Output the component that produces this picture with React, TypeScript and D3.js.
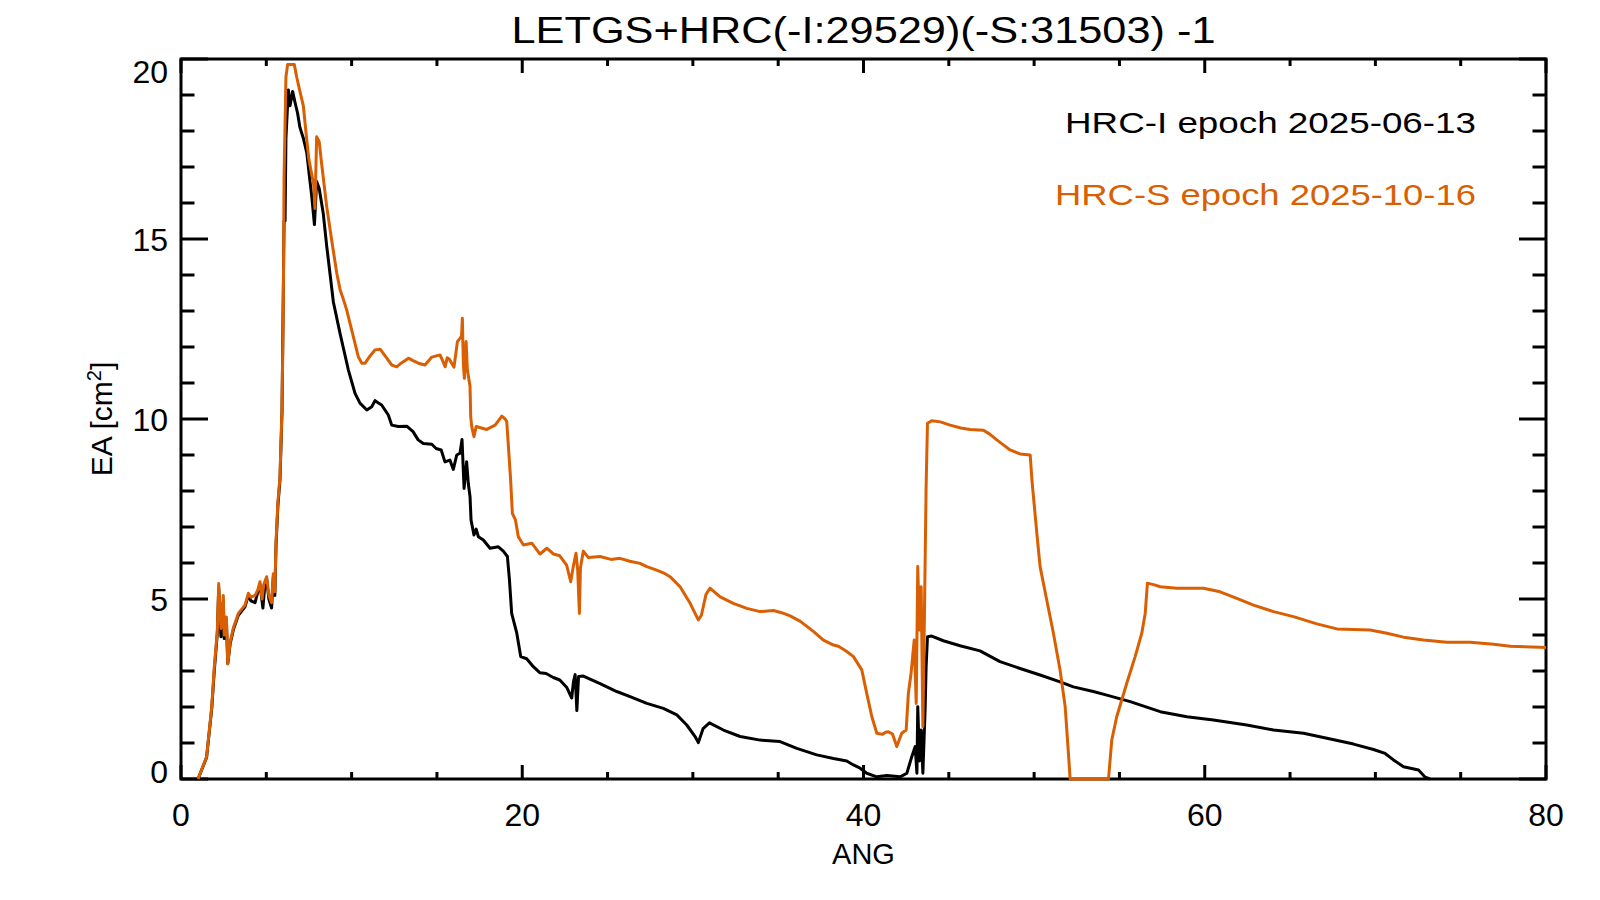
import React from "react";
import * as d3 from "d3";

// HRC-I (black) effective area
const hrcIAng = [1.0, 1.5, 1.8, 1.95, 2.13, 2.21, 2.34, 2.48, 2.53, 2.66, 2.74, 2.88, 3.07, 3.36, 3.75, 3.95, 4.1, 4.34, 4.5, 4.63, 4.8, 4.9, 5.02, 5.15, 5.31, 5.41, 5.5, 5.57, 5.68, 5.8, 5.92, 6.04, 6.1, 6.15, 6.29, 6.39, 6.54, 6.68, 6.83, 6.97, 7.17, 7.37, 7.56, 7.66, 7.82, 7.95, 8.1, 8.34, 8.54, 8.73, 8.93, 9.32, 9.81, 10.2, 10.49, 10.89, 11.18, 11.37, 11.55, 11.76, 12.15, 12.35, 12.74, 13.23, 13.6, 13.9, 14.2, 14.7, 14.95, 15.25, 15.47, 15.76, 15.96, 16.16, 16.35, 16.47, 16.59, 16.74, 16.84, 16.94, 17.0, 17.17, 17.3, 17.43, 17.72, 18.11, 18.6, 18.89, 19.13, 19.25, 19.38, 19.68, 19.91, 20.26, 20.65, 21.04, 21.4, 21.82, 22.2, 22.6, 22.9, 23.0, 23.1, 23.2, 23.3, 23.58, 24.56, 25.54, 26.32, 27.3, 28.27, 29.06, 29.64, 30.13, 30.32, 30.6, 30.97, 31.79, 32.77, 33.94, 35.11, 36.09, 37.26, 38.24, 39.02, 39.41, 39.8, 40.19, 40.78, 41.37, 42.15, 42.54, 42.83, 43.03, 43.13, 43.18, 43.28, 43.38, 43.48, 43.61, 43.67, 43.75, 44.0, 44.68, 45.66, 46.83, 48.0, 49.18, 50.35, 51.52, 52.3, 53.47, 54.26, 55.63, 57.39, 58.95, 60.51, 62.46, 64.03, 65.79, 67.16, 68.72, 69.89, 70.57, 71.06, 71.65, 72.53, 72.92, 73.2];
const hrcIEa = [0, 0.6, 1.95, 3.0, 4.05, 5.3, 3.95, 4.9, 3.9, 4.4, 3.2, 3.75, 4.15, 4.55, 4.78, 5.1, 4.95, 4.9, 5.2, 5.4, 4.75, 5.3, 5.55, 5.0, 4.75, 5.6, 5.1, 6.5, 7.6, 8.3, 10.2, 15.5, 15.5, 17.8, 19.14, 18.7, 19.1, 18.8, 18.5, 18.1, 17.8, 17.4, 16.6, 16.2, 15.4, 16.6, 16.4, 15.7, 14.8, 14.05, 13.25, 12.38, 11.36, 10.71, 10.44, 10.25, 10.34, 10.51, 10.45, 10.39, 10.11, 9.83, 9.79, 9.8, 9.65, 9.42, 9.32, 9.3, 9.18, 9.14, 8.81, 8.86, 8.6, 9.0, 9.05, 9.43, 8.07, 8.81, 8.2, 7.84, 7.19, 6.78, 6.94, 6.73, 6.64, 6.41, 6.45, 6.33, 6.18, 5.53, 4.6, 4.05, 3.4, 3.34, 3.12, 2.95, 2.93, 2.82, 2.75, 2.55, 2.25, 2.7, 2.9, 1.9, 2.85, 2.86, 2.65, 2.43, 2.29, 2.1, 1.96, 1.78, 1.5, 1.18, 1.01, 1.4, 1.56, 1.36, 1.18, 1.08, 1.04, 0.85, 0.67, 0.57, 0.5, 0.39, 0.3, 0.16, 0.06, 0.1, 0.06, 0.16, 0.62, 0.9, 0.16, 2.01, 0.5, 1.36, 0.16, 1.92, 3.12, 3.95, 3.97, 3.84, 3.7, 3.56, 3.26, 3.07, 2.89, 2.7, 2.56, 2.43, 2.33, 2.15, 1.87, 1.73, 1.64, 1.5, 1.36, 1.27, 1.13, 0.97, 0.82, 0.71, 0.53, 0.34, 0.25, 0.05, 0];

// HRC-S (orange) effective area
const hrcSAng = [1.0, 1.5, 1.8, 1.95, 2.13, 2.21, 2.34, 2.48, 2.53, 2.66, 2.74, 2.88, 3.07, 3.36, 3.75, 3.95, 4.1, 4.34, 4.5, 4.63, 4.75, 4.85, 5.02, 5.15, 5.31, 5.41, 5.5, 5.57, 5.68, 5.8, 5.92, 6.0, 6.04, 6.15, 6.25, 6.64, 6.78, 6.97, 7.17, 7.37, 7.5, 7.66, 7.78, 7.85, 7.95, 8.1, 8.24, 8.54, 8.83, 9.13, 9.32, 9.5, 9.71, 10.1, 10.39, 10.6, 10.79, 11.0, 11.37, 11.67, 12.06, 12.35, 12.64, 12.9, 13.33, 13.6, 13.91, 14.3, 14.7, 15.18, 15.35, 15.48, 15.6, 15.73, 16.0, 16.2, 16.35, 16.44, 16.49, 16.55, 16.61, 16.71, 16.78, 16.84, 16.94, 16.98, 17.04, 17.17, 17.3, 17.6, 17.92, 18.41, 18.6, 18.8, 19.0, 19.09, 19.19, 19.32, 19.42, 19.6, 19.77, 20.07, 20.56, 20.8, 21.04, 21.44, 21.83, 22.2, 22.6, 22.84, 22.99, 23.15, 23.25, 23.35, 23.41, 23.58, 23.88, 24.56, 25.2, 25.73, 26.3, 26.9, 27.3, 27.88, 28.3, 28.66, 29.25, 29.84, 30.13, 30.32, 30.5, 30.77, 31.0, 31.6, 32.37, 33.16, 33.94, 34.72, 35.2, 35.7, 36.3, 37.06, 37.65, 38.24, 38.53, 39.0, 39.41, 39.9, 40.19, 40.49, 40.78, 41.1, 41.3, 41.46, 41.7, 41.95, 42.24, 42.5, 42.63, 42.79, 42.97, 43.09, 43.18, 43.28, 43.38, 43.48, 43.57, 43.67, 43.75, 44.0, 44.5, 45.08, 45.7, 46.25, 47.03, 47.4, 47.81, 48.2, 48.59, 49.18, 49.77, 49.87, 50.16, 50.35, 50.74, 51.13, 51.52, 51.82, 52.01, 52.11, 54.36, 54.55, 54.84, 55.43, 55.92, 56.31, 56.51, 56.64, 57.0, 57.39, 58.37, 59.93, 60.9, 61.88, 62.86, 64.03, 65.2, 66.57, 67.74, 69.7, 70.67, 71.65, 72.82, 74.19, 75.56, 76.93, 77.9, 79.66, 80];
const hrcSEa = [0, 0.62, 2.0, 3.1, 4.14, 5.43, 4.18, 5.1, 4.0, 4.5, 3.2, 3.8, 4.2, 4.6, 4.83, 5.16, 5.05, 5.1, 5.25, 5.48, 5.0, 5.4, 5.62, 5.1, 4.9, 5.7, 5.2, 6.6, 7.7, 8.4, 10.3, 13.3, 16.7, 19.5, 19.85, 19.85, 19.5, 19.1, 18.7, 17.75, 17.2, 16.8, 16.5, 15.85, 17.84, 17.7, 17.1, 15.9, 14.97, 14.05, 13.6, 13.35, 13.03, 12.29, 11.73, 11.55, 11.55, 11.7, 11.92, 11.94, 11.69, 11.5, 11.45, 11.55, 11.69, 11.62, 11.55, 11.5, 11.72, 11.78, 11.6, 11.45, 11.7, 11.66, 11.44, 12.15, 12.24, 12.3, 12.8, 11.5, 11.13, 12.15, 11.4, 11.2, 10.9, 10.06, 9.79, 9.51, 9.79, 9.75, 9.71, 9.83, 9.95, 10.08, 10.0, 9.93, 9.23, 8.3, 7.38, 7.2, 6.73, 6.5, 6.55, 6.4, 6.25, 6.41, 6.25, 6.2, 5.94, 5.48, 5.9, 6.27, 5.8, 4.6, 5.87, 6.33, 6.15, 6.18, 6.1, 6.13, 6.05, 5.99, 5.9, 5.8, 5.72, 5.62, 5.34, 4.88, 4.6, 4.42, 4.55, 5.13, 5.3, 5.06, 4.88, 4.74, 4.65, 4.68, 4.62, 4.53, 4.38, 4.1, 3.86, 3.72, 3.69, 3.55, 3.4, 3.03, 2.38, 1.73, 1.27, 1.24, 1.3, 1.31, 1.25, 0.9, 1.27, 1.36, 2.38, 2.94, 3.86, 2.1, 5.9, 4.14, 5.34, 1.45, 4.5, 8.12, 9.88, 9.95, 9.92, 9.83, 9.75, 9.71, 9.69, 9.58, 9.42, 9.28, 9.14, 9.03, 9.0, 8.31, 6.82, 5.9, 4.97, 4.05, 3.03, 2.01, 0.71, 0, 0, 1.08, 1.73, 2.66, 3.4, 4.05, 4.6, 5.44, 5.4, 5.34, 5.3, 5.3, 5.2, 5.02, 4.83, 4.65, 4.51, 4.31, 4.17, 4.14, 4.05, 3.94, 3.86, 3.8, 3.8, 3.74, 3.69, 3.66, 3.65];

const xMajorTicks = [0, 20, 40, 60, 80];
const xMinorTicks = [5, 10, 15, 25, 30, 35, 45, 50, 55, 65, 70, 75];
const yMajorTicks = [0, 5, 10, 15, 20];
const yMinorTicks = [1, 2, 3, 4, 6, 7, 8, 9, 11, 12, 13, 14, 16, 17, 18, 19];

const titleText = "LETGS+HRC(-I:29529)(-S:31503) -1";
const legendI = "HRC-I epoch 2025-06-13";
const legendS = "HRC-S epoch 2025-10-16";

const ORANGE = "#d95f02";
const FONT = "'Liberation Sans', Arial, sans-serif";

const W = 1600;
const H = 900;
const left = 181;
const right = 1546;
const top = 59;
const bottom = 779;

const App: React.FC = () => {
  const x = d3.scaleLinear().domain([0, 80]).range([left, right]);
  const y = d3.scaleLinear().domain([0, 20]).range([bottom, top]);

  const line = d3
    .line<[number, number]>()
    .x((d) => x(d[0]))
    .y((d) => y(d[1]));

  const iPts = hrcIAng.map((a, i) => [a, hrcIEa[i]] as [number, number]);
  const sPts = hrcSAng.map((a, i) => [a, hrcSEa[i]] as [number, number]);

  const xMajLen = 14;
  const yMajLen = 27;

  return (
    <>
      <style>{"body{margin:0}"}</style>
      <svg width={W} height={H} style={{ display: "block", background: "#fff" }}>
        <rect x={0} y={0} width={W} height={H} fill="#fff" />

        {/* frame */}
        <rect x={left} y={top} width={right - left} height={bottom - top} fill="none" stroke="#000" strokeWidth={3} />

        {/* x ticks, bottom and top */}
        {xMajorTicks.map((t) => (
          <g key={"xm" + t}>
            <line x1={x(t)} x2={x(t)} y1={bottom} y2={bottom - xMajLen} stroke="#000" strokeWidth={3} />
            <line x1={x(t)} x2={x(t)} y1={top} y2={top + xMajLen} stroke="#000" strokeWidth={3} />
          </g>
        ))}
        {xMinorTicks.map((t) => (
          <g key={"xn" + t}>
            <line x1={x(t)} x2={x(t)} y1={bottom} y2={bottom - xMajLen / 2} stroke="#000" strokeWidth={3} />
            <line x1={x(t)} x2={x(t)} y1={top} y2={top + xMajLen / 2} stroke="#000" strokeWidth={3} />
          </g>
        ))}

        {/* y ticks, left and right */}
        {yMajorTicks.map((t) => (
          <g key={"ym" + t}>
            <line x1={left} x2={left + yMajLen} y1={y(t)} y2={y(t)} stroke="#000" strokeWidth={3} />
            <line x1={right} x2={right - yMajLen} y1={y(t)} y2={y(t)} stroke="#000" strokeWidth={3} />
          </g>
        ))}
        {yMinorTicks.map((t) => (
          <g key={"yn" + t}>
            <line x1={left} x2={left + yMajLen / 2} y1={y(t)} y2={y(t)} stroke="#000" strokeWidth={3} />
            <line x1={right} x2={right - yMajLen / 2} y1={y(t)} y2={y(t)} stroke="#000" strokeWidth={3} />
          </g>
        ))}

        {/* tick labels */}
        {xMajorTicks.map((t) => (
          <text key={"xl" + t} x={x(t)} y={826} textAnchor="middle" fontFamily={FONT} fontSize={32} fill="#000">
            {t}
          </text>
        ))}
        {yMajorTicks.map((t) => {
          const cy = Math.min(Math.max(y(t), top + 12), bottom - 8);
          return (
            <text key={"yl" + t} x={168} y={cy + 11.5} textAnchor="end" fontFamily={FONT} fontSize={32} fill="#000">
              {t}
            </text>
          );
        })}

        {/* series */}
        <path d={line(iPts) ?? ""} fill="none" stroke="#000" strokeWidth={3} strokeLinejoin="round" />
        <path d={line(sPts) ?? ""} fill="none" stroke={ORANGE} strokeWidth={3} strokeLinejoin="round" />

        {/* title */}
        <text x={(left + right) / 2} y={43} textAnchor="middle" fontFamily={FONT} fontSize={37} fill="#000"
          textLength={704} lengthAdjust="spacingAndGlyphs">
          {titleText}
        </text>

        {/* legend text */}
        <text x={1065} y={133} fontFamily={FONT} fontSize={30} fill="#000" textLength={411} lengthAdjust="spacingAndGlyphs">
          {legendI}
        </text>
        <text x={1055} y={205} fontFamily={FONT} fontSize={30} fill={ORANGE} textLength={421} lengthAdjust="spacingAndGlyphs">
          {legendS}
        </text>

        {/* axis titles */}
        <text x={(left + right) / 2} y={864} textAnchor="middle" fontFamily={FONT} fontSize={29} fill="#000">
          ANG
        </text>
        <text transform={`translate(112, ${(top + bottom) / 2}) rotate(-90)`} textAnchor="middle" fontFamily={FONT} fontSize={30} fill="#000">
          EA [cm<tspan dy={-11} fontSize={20}>2</tspan><tspan dy={11}>]</tspan>
        </text>
      </svg>
    </>
  );
};

export default App;
